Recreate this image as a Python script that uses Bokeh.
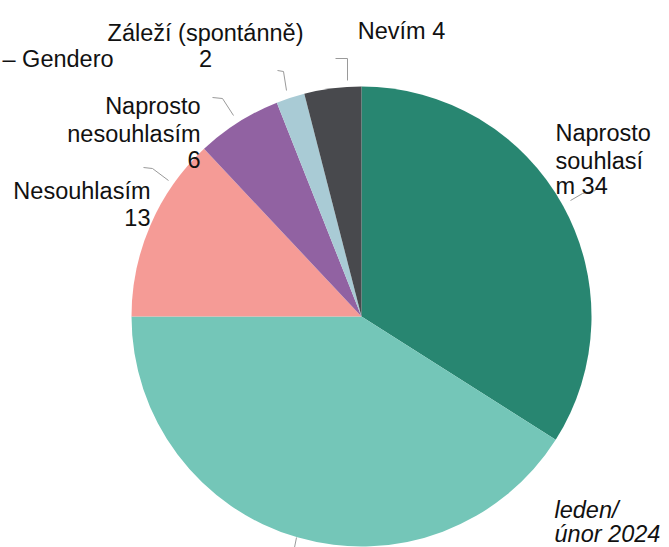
import math
from bokeh.plotting import figure
from bokeh.models import Range1d, ColumnDataSource
from bokeh.core.properties import value
from bokeh.embed import file_html
from bokeh.resources import INLINE

categories = ["Naprosto souhlasím", "Souhlasím", "Nesouhlasím",
              "Naprosto nesouhlasím", "Záleží (spontánně)", "Nevím"]
values = [34, 41, 13, 6, 2, 4]
colors = ["#288671", "#74c6b8", "#f59b96", "#9162a2", "#a9cbd5", "#48494d"]
period = ["leden/", "únor 2024"]
title_text = "– Gendero"

W, H = 669, 547
def Y(py):
    return H - py

total = sum(values)
starts, ends = [], []
cum = 0.0
for v in values:
    starts.append(math.pi / 2 - 2 * math.pi * cum / total)
    cum += v
    ends.append(math.pi / 2 - 2 * math.pi * cum / total)

src = ColumnDataSource(dict(cat=categories, val=values, color=colors,
                            start=starts, end=ends))

p = figure(width=W, height=H, output_backend="svg", toolbar_location=None,
           x_range=Range1d(0, W), y_range=Range1d(0, H),
           min_border=0, outline_line_color=None)
p.axis.visible = False
p.grid.visible = False
p.background_fill_color = "white"
p.border_fill_color = "white"

cx, cy, r = 361, Y(316), 230
p.wedge(x=cx, y=cy, radius=r, start_angle="start", end_angle="end",
        direction="clock", fill_color="color", line_color=None, source=src)

# leader lines
leaders = [
    ([570, 582, 595], [200, 193, 190]),
    ([296, 294], [537, 547]),
    ([143, 152, 168], [167, 168, 180]),
    ([212, 222, 233], [97, 98, 115]),
    ([277, 283, 286], [70, 71, 90]),
    ([335, 347, 347], [58, 58, 80]),
]
for xs, ys in leaders:
    p.line(x=xs, y=[Y(v) for v in ys], line_color="#9a9a9a", line_width=1)

FONT = value("Liberation Sans")
FS = "23.5px"

def label(x, py, txt, align="left", style="normal"):
    p.text(x=[x], y=[Y(py)], text=[txt], text_font=FONT, text_font_size=FS,
           text_align=align, text_baseline="alphabetic", text_color="#111111",
           text_font_style=style)

# title (partly hidden in reference)
label(2, 58, title_text)

# Naprosto souhlasím
label(555, 132, "Naprosto")
label(555, 160, "souhlasí")
label(555, 185, f"m {values[0]}")
# Nesouhlasím
label(150, 190, categories[2], "right")
label(150, 217, f"{values[2]}", "right")
# Naprosto nesouhlasím
label(200, 105, "Naprosto", "right")
label(200, 133, "nesouhlasím", "right")
label(200, 159, f"{values[3]}", "right")
# Záleží
label(205, 32, categories[4], "center")
label(205, 58, f"{values[4]}", "center")
# Nevím
label(401, 30, f"{categories[5]} {values[5]}", "center")
# period
label(554, 509, period[0], style="italic")
label(554, 533, period[1], style="italic")

open("out.html", "w").write(file_html(p, INLINE))
